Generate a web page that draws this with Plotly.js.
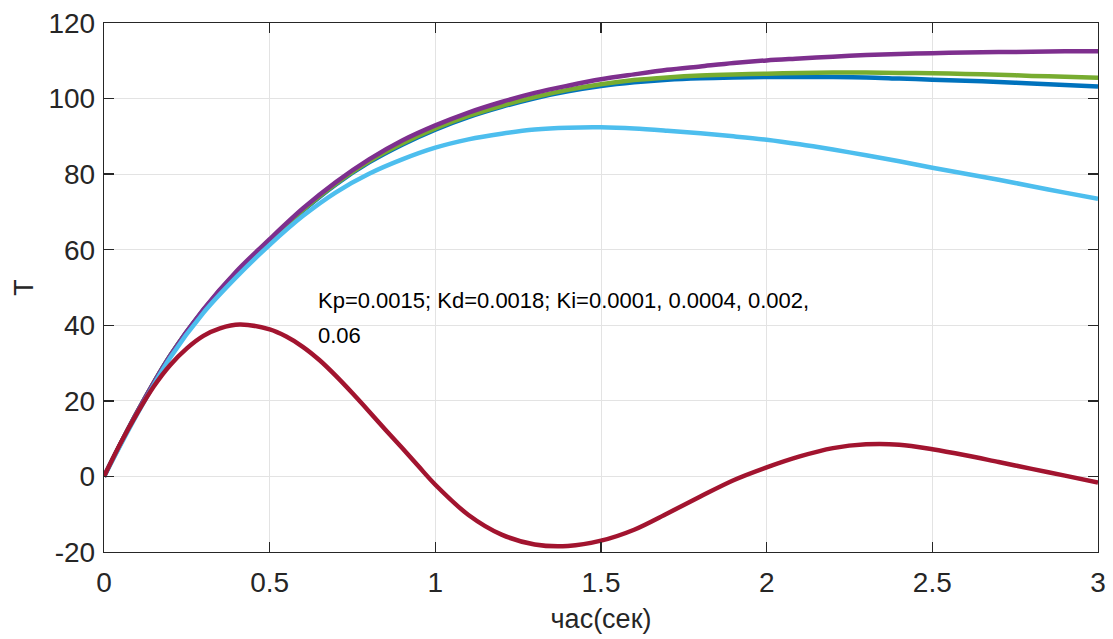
<!DOCTYPE html>
<html>
<head>
<meta charset="utf-8">
<script src="https://cdn.plot.ly/plotly-3.0.1.min.js"></script>
<style>html,body{margin:0;padding:0;background:#fff;}#chart{width:1113px;height:639px;}</style>
</head>
<body>
<div id="chart"></div>
<script>
var timeSec = [0,0.1,0.2,0.3,0.4,0.5,0.6,0.7,0.8,0.9,1.0,1.1,1.2,1.3,1.4,1.5,1.6,1.7,1.8,1.9,2.0,2.1,2.2,2.3,2.4,2.5,2.6,2.7,2.8,2.9,3.0];
var seriesDarkBlue = [0,17,32,44,54,62.4,70.3,77.3,83.1,87.8,91.8,95.1,97.8,100.1,101.9,103.3,104.3,105.0,105.4,105.6,105.7,105.7,105.7,105.6,105.3,105.0,104.7,104.4,104.0,103.6,103.2];
var seriesGreen = [0,17,32,44,54,62.5,70.5,77.5,83.4,88.1,92.1,95.4,98.1,100.4,102.3,103.8,104.9,105.6,106.1,106.4,106.6,106.8,106.9,106.9,106.8,106.7,106.5,106.3,106.0,105.8,105.5];
var seriesPurple = [0,17,32,44.2,54.3,62.8,70.9,77.9,83.9,88.9,92.9,96.3,99.1,101.5,103.4,105.1,106.4,107.6,108.5,109.4,110.1,110.6,111.1,111.5,111.8,112.0,112.2,112.3,112.4,112.5,112.5];
var seriesLightBlue = [0,16.5,31.5,43.3,52.8,61.3,68.9,75.2,80.1,83.9,87.0,89.2,90.7,91.8,92.3,92.4,92.1,91.5,90.8,90.0,89.1,87.9,86.5,85.0,83.4,81.7,80.1,78.5,76.8,75.1,73.5];
var timeRed = [0,0.05,0.1,0.15,0.2,0.25,0.3,0.35,0.41,0.5,0.55,0.6,0.65,0.7,0.75,0.8,0.85,0.9,0.95,1.0,1.1,1.2,1.3,1.4,1.5,1.6,1.7,1.8,1.9,2.0,2.1,2.2,2.3,2.4,2.5,2.6,2.7,2.8,2.9,3.0];
var seriesRed = [0,8.8,16.7,23.8,29.5,33.9,37.2,39.2,40.2,38.9,37.0,34.3,30.8,26.6,22.0,17.2,12.3,7.5,2.6,-2.2,-10.2,-15.4,-18.0,-18.4,-17.0,-14.1,-9.8,-5.3,-1.0,2.4,5.3,7.5,8.5,8.4,7.2,5.6,3.8,2.0,0.2,-1.6];
var xTicks = [0,0.5,1,1.5,2,2.5,3];
var xTickText = ['0','0.5','1','1.5','2','2.5','3'];
var yTicks = [-20,0,20,40,60,80,100,120];
var yTickText = ['-20','0','20','40','60','80','100','120'];
var noteLine1 = 'Kp=0.0015; Kd=0.0018; Ki=0.0001, 0.0004, 0.002,';
var noteLine2 = '0.06';

var colors = ['#0072BD','#77AC30','#7E2F8E','#4DBEEE','#A2142F'];
var xs = [timeSec, timeSec, timeSec, timeSec, timeRed];
var allSeries = [seriesDarkBlue, seriesGreen, seriesPurple, seriesLightBlue, seriesRed];
var traces = allSeries.map(function(s,i){
  return {x: xs[i], y: s, type:'scatter', mode:'lines',
    line:{color:colors[i], width:4.5, shape:'spline', smoothing:0.9}, hoverinfo:'skip'};
});
var fontFam = 'Liberation Sans, Arial, Helvetica, sans-serif';
var axisCommon = {
  showline:true, linecolor:'#262626', linewidth:1.3, mirror:'ticks',
  ticks:'inside', ticklen:10, tickwidth:1.3, tickcolor:'#262626',
  showgrid:true, gridcolor:'#e3e3e3', gridwidth:1, zeroline:false,
  tickfont:{family:fontFam, size:28, color:'#262626'}
};
var layout = {
  width:1113, height:639,
  margin:{l:103.5, r:14.5, t:22.5, b:86.7, pad:0},
  paper_bgcolor:'#ffffff', plot_bgcolor:'#ffffff',
  showlegend:false,
  xaxis: Object.assign({}, axisCommon, {range:[0,3], tickmode:'array', tickvals:xTicks, ticktext:xTickText,
    ticklabelstandoff:5,
    title:{text:'час(сек)', font:{family:fontFam, size:27, color:'#262626'}, standoff:12}}),
  yaxis: Object.assign({}, axisCommon, {range:[-20,120], tickmode:'array', tickvals:yTicks, ticktext:yTickText,
    ticklabelstandoff:2,
    title:{text:'T', font:{family:fontFam, size:27, color:'#262626'}, standoff:7}}),
  annotations:[
    {x:0.639, y:46.5, xref:'x', yref:'y', text:noteLine1, showarrow:false, xanchor:'left', yanchor:'middle',
     font:{family:fontFam, size:22, color:'#000000'}},
    {x:0.639, y:37.3, xref:'x', yref:'y', text:noteLine2, showarrow:false, xanchor:'left', yanchor:'middle',
     font:{family:fontFam, size:22, color:'#000000'}}
  ]
};
Plotly.newPlot('chart', traces, layout, {displayModeBar:false, staticPlot:true});
</script>
</body>
</html>
